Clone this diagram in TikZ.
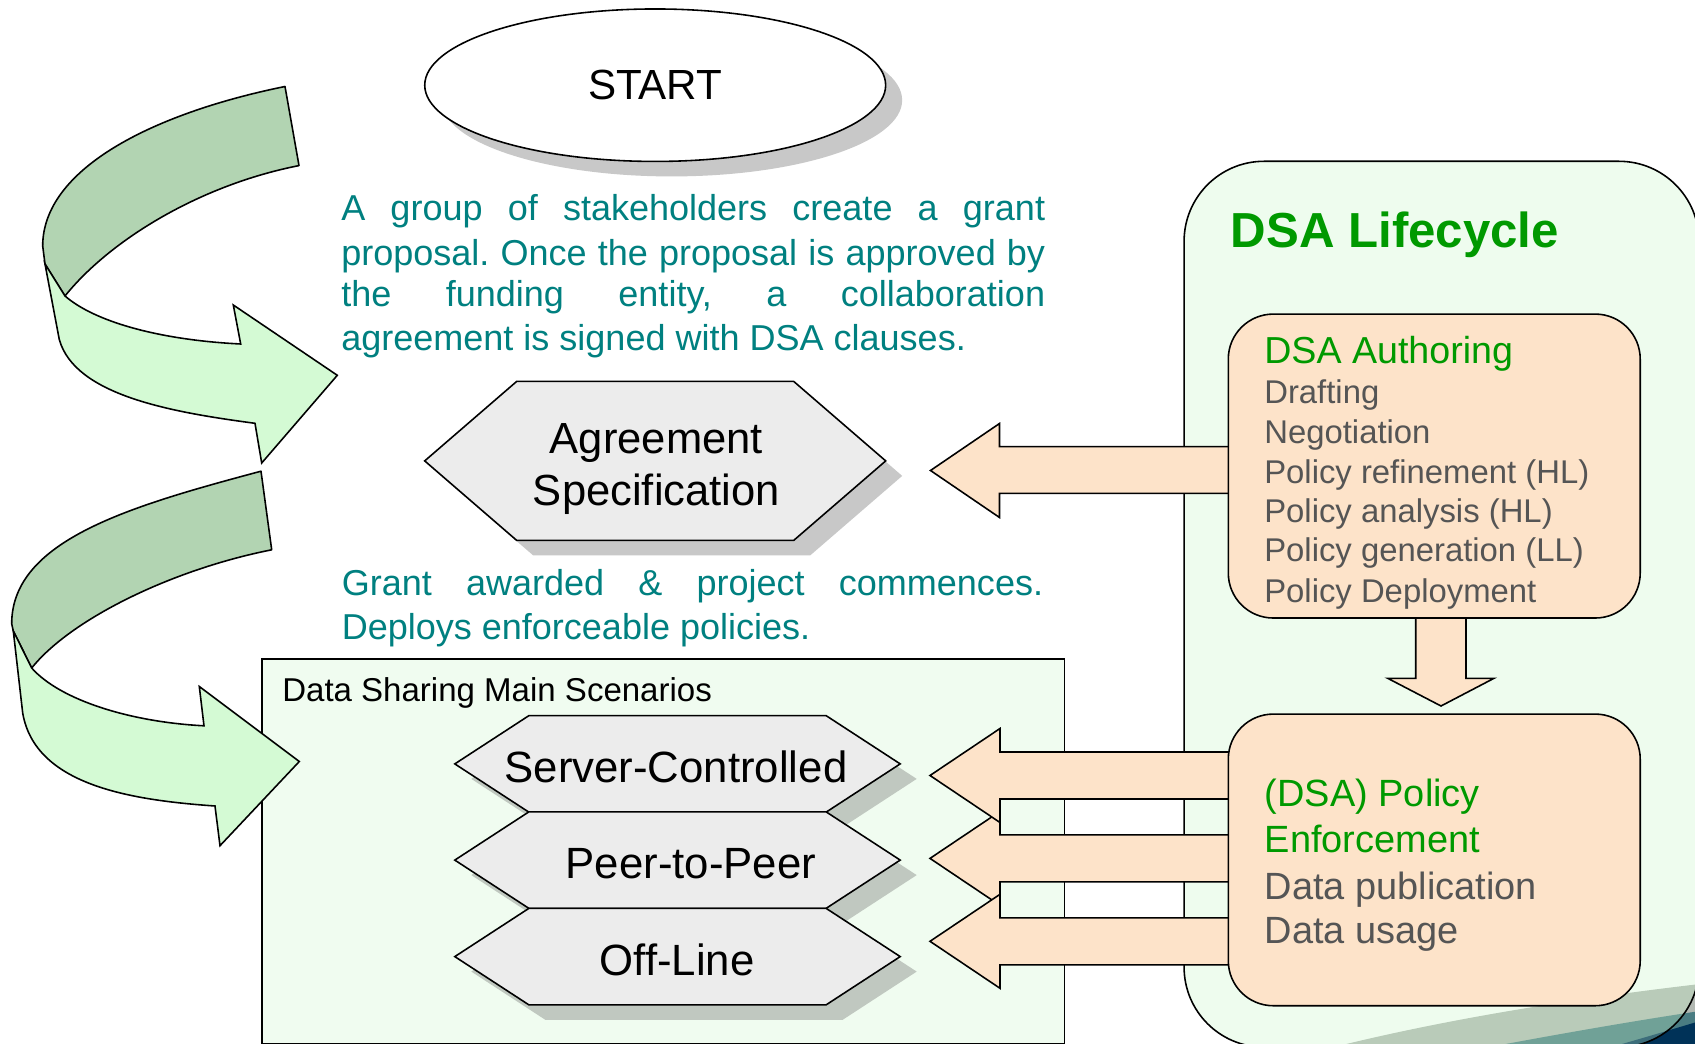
\documentclass[tikz,border=0pt]{standalone}
\usepackage{fontspec}
\setmainfont{Liberation Sans}
\usetikzlibrary{calc,shadows,shapes.geometric}
\definecolor{tealtxt}{RGB}{0,128,128}
\definecolor{dsagreen}{RGB}{0,153,0}
\definecolor{txtgray}{RGB}{85,85,85}
\definecolor{peach}{RGB}{253,227,201}
\definecolor{hexgray}{RGB}{236,236,236}
\definecolor{shadw}{RGB}{200,200,200}
\definecolor{shadg}{RGB}{192,200,192}
\definecolor{darkgr}{RGB}{178,212,178}
\definecolor{lightgr}{RGB}{212,250,212}
\definecolor{lifegreen}{RGB}{202,248,202}
\definecolor{scenbg}{RGB}{240,252,240}
\definecolor{swooshA}{RGB}{178,184,178}
\definecolor{swooshB}{RGB}{74,124,130}
\definecolor{swooshC}{RGB}{0,50,88}
\newcommand\setfs[2]{\fontsize{#1pt}{#2pt}\selectfont}
\frenchspacing
\begin{document}
\begin{tikzpicture}[x=0.02cm,y=-0.02cm,line width=0.9pt,
  lbl/.style={inner sep=0pt,anchor=base west},
  ctr/.style={inner sep=0pt,anchor=base},
  shadowed/.style={drop shadow={shadow xshift=0.33cm,shadow yshift=-0.3cm,opacity=1,fill=#1}},
  hexa/.style={draw=black,fill=hexgray,line join=miter,shadowed=#1},
  block/.style={draw=black,fill=peach,line join=miter},
  back/.style={draw=black,fill=darkgr,line join=round},
  front/.style={draw=black,fill=lightgr,line join=miter},
  roundbox/.style={draw=black,fill=peach,rounded corners=0.9cm,inner sep=0pt,anchor=north west,minimum width=8.24cm},
  para/.style={lbl,text=tealtxt,font=\frenchspacing\setfs{20.5}{24}},
  hextxt/.style={ctr,font=\setfs{24.9}{29}},
  listtxt/.style={lbl,text=txtgray,font=\setfs{18.7}{22}},
  enfgreen/.style={lbl,text=dsagreen,font=\setfs{21.6}{25}},
  enfgray/.style={lbl,text=txtgray,font=\setfs{21.6}{25}}]
\useasboundingbox (0,0) rectangle (1695,1044);
\fill[white] (0,0) rectangle (1695,1044);
\clip (0,0) rectangle (1695,1044);

% decorative swoosh (slide background)
\fill[swooshA] (1330,1048) .. controls (1450,1018) and (1580,998) .. (1700,984) -- (1700,1050) -- (1330,1050) -- cycle;
\fill[swooshB] (1495,1046) .. controls (1570,1032) and (1640,1020) .. (1700,1011) -- (1700,1050) -- (1495,1050) -- cycle;
\fill[swooshC] (1615,1046) .. controls (1650,1036) and (1680,1027) .. (1700,1021) -- (1700,1050) -- cycle;

% DSA lifecycle frame
\node[draw=black,fill=lifegreen,fill opacity=0.3,rounded corners=1.6cm,minimum width=10.3cm,minimum height=17.72cm,anchor=north west,inner sep=0pt] (life) at (1183.3,160.5) {};

% START
\node[ellipse,draw=black,fill=white,minimum width=9.22cm,minimum height=3.05cm,inner sep=0pt,shadowed=shadw,font=\setfs{24}{28}] (start) at (655.2,85.2) {\raisebox{-0.07cm}{START}};

% paragraph 1
\node[para] (p1a) at (340.5,220.5) {\makebox[14.08cm][s]{A group of stakeholders create a grant}};
\node[para] (p1b) at (340.5,265.5) {\makebox[14.08cm][s]{proposal. Once the proposal is approved by}};
\node[para] (p1c) at (340.5,307) {\makebox[14.08cm][s]{the funding entity, a collaboration}};
\node[para] (p1d) at (340.5,350.5) {agreement is signed with DSA clauses.};

% Agreement specification
\coordinate (agr) at (655.2,460.9);
\draw[hexa=shadw] (agr) ++(-230.5,0) -- ++(92,-79.5) -- ++(277,0) -- ++(92,79.5) -- ++(-92,79.5) -- ++(-277,0) -- cycle;
\node[ctr,font=\setfs{24.8}{29}] (agr1) at (656.5,453.8) {Agreement};
\node[ctr,font=\setfs{24.8}{29}] (agr2) at (656.5,505.6) {Specification};

% paragraph 2
\node[para] (p2a) at (341,595) {\makebox[14.03cm][s]{Grant awarded \& project commences.}};
\node[para] (p2b) at (341,639.5) {Deploys enforceable policies.};

% scenarios
\node[draw=black,fill=scenbg,minimum width=16.06cm,minimum height=7.7cm,anchor=north west,inner sep=0pt] (scen) at (261,658.3) {};
\node[lbl,font=\setfs{18.8}{22}] (scenlbl) at (281.5,701.5) {Data Sharing Main Scenarios};

\coordinate (hs) at (677.5,763.9);
\coordinate (hp) at (677.5,860.1);
\coordinate (ho) at (677.5,956.6);
\draw[hexa=shadg] (hs) ++(-222.7,0) -- ++(74,-48.2) -- ++(297.4,0) -- ++(74,48.2) -- ++(-74,48.2) -- ++(-297.4,0) -- cycle;
\draw[hexa=shadg] (hp) ++(-222.7,0) -- ++(74,-48.2) -- ++(297.4,0) -- ++(74,48.2) -- ++(-74,48.2) -- ++(-297.4,0) -- cycle;
\draw[hexa=shadg] (ho) ++(-222.7,0) -- ++(74,-48.2) -- ++(297.4,0) -- ++(74,48.2) -- ++(-74,48.2) -- ++(-297.4,0) -- cycle;
\node[hextxt] (tserver) at (676,782.5) {Server-Controlled};
\node[hextxt] (tpeer) at (691,878.2) {Peer-to-Peer};
\node[hextxt] (toff) at (677,975) {Off-Line};

% curved arrow 1
\draw[back] (285,86.5) -- (299,165.6) .. controls (200,185) and (110,240) .. (65,296) -- (45,264) -- (42.7,246) .. controls (42.7,170) and (150,114) .. (285,86.5) -- cycle;
\draw[front] (45,264) -- (59.3,339.6) .. controls (75,395) and (170,412) .. (255,423.3) -- (261.7,463) -- (337.3,375.3) -- (233.3,305) -- (240.7,344) .. controls (160,340) and (95,322) .. (65,296) -- cycle;

% curved arrow 2
\draw[back] (261,471.2) -- (271.7,549.8) .. controls (170,570) and (70,620) .. (31.7,668) -- (13.3,631) -- (11.7,623.8) .. controls (11.7,540) and (131,506) .. (261,471.2) -- cycle;
\draw[front] (13.3,631) -- (22.7,713) .. controls (35,785) and (130,800) .. (215,806) -- (220,845.7) -- (299.3,761.5) -- (199.3,686.5) -- (204,725.8) .. controls (130,722) and (60,700) .. (31.7,668) -- cycle;

% block arrows
\draw[block] (1235,446.7) -- (999.5,446.7) -- (999.5,423.5) -- (930.5,470.5) -- (999.5,517.5) -- (999.5,493.3) -- (1235,493.3) -- cycle;
\draw[block] (1235,834.9) -- (1000,834.9) -- (1000,811.4) -- (930,858.4) -- (1000,905.4) -- (1000,881.9) -- (1235,881.9) -- cycle;
\draw[block] (1235,752) -- (1000,752) -- (1000,728.5) -- (930,775.5) -- (1000,822.5) -- (1000,799) -- (1235,799) -- cycle;
\draw[block] (1235,917.8) -- (1000,917.8) -- (1000,894.3) -- (930,941.3) -- (1000,988.3) -- (1000,964.8) -- (1235,964.8) -- cycle;
\draw[block] (1415.7,610) -- (1415.7,678.3) -- (1387.7,678.3) -- (1441,706) -- (1494,678.3) -- (1466,678.3) -- (1466,610) -- cycle;

% lifecycle boxes
\node[roundbox,minimum height=6.08cm] (auth) at (1227.5,313.3) {};
\node[roundbox,minimum height=5.834cm] (enf) at (1227.5,713.3) {};

\node[lbl,text=dsagreen,font=\bfseries\setfs{28}{32}] (title) at (1230,248) {DSA Lifecycle};
\node[lbl,text=dsagreen,font=\setfs{21.4}{25}] (authhead) at (1263.5,363.2) {DSA Authoring};
\node[listtxt] (auth1) at (1263.5,403.7) {Drafting};
\node[listtxt] (auth2) at (1263.5,443.7) {Negotiation};
\node[listtxt] (auth3) at (1263.5,483.7) {Policy refinement (HL)};
\node[listtxt] (auth4) at (1263.5,522.7) {Policy analysis (HL)};
\node[listtxt] (auth5) at (1263.5,561.3) {Policy generation (LL)};
\node[listtxt] (auth6) at (1263.5,602.7) {Policy Deployment};

\node[enfgreen] (enf1) at (1264,806.6) {(DSA) Policy};
\node[enfgreen] (enf2) at (1264,852.3) {Enforcement};
\node[enfgray] (enf3) at (1264,899) {Data publication};
\node[enfgray] (enf4) at (1264,943.5) {Data usage};
\end{tikzpicture}
\end{document}
